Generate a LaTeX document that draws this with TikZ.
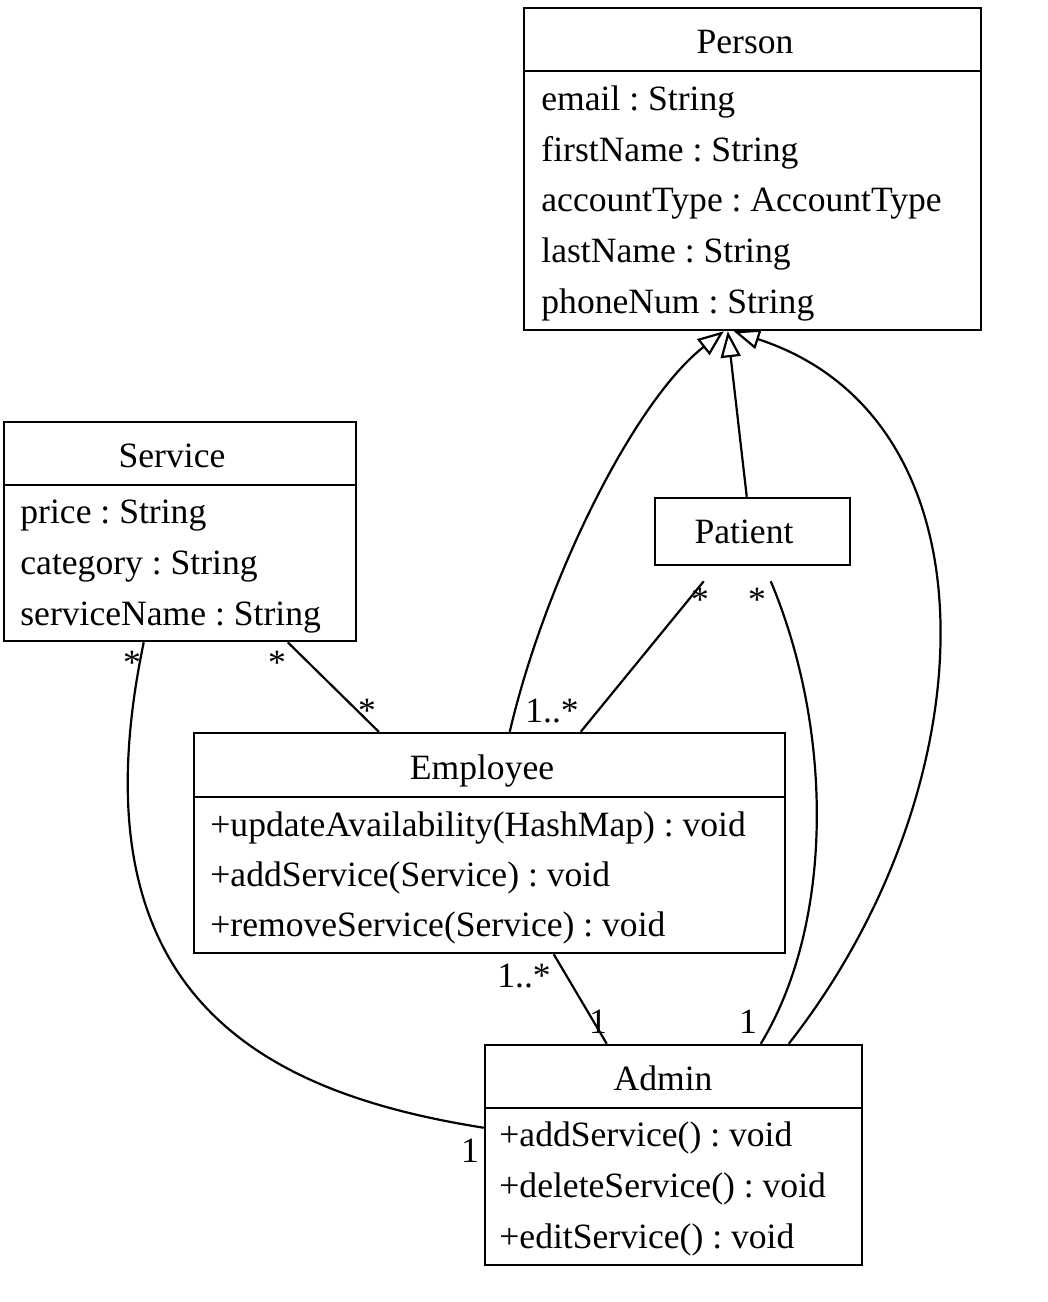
\documentclass[tikz,border=0pt]{standalone}
\usepackage{fontspec}
\setmainfont{Liberation Serif}
\usetikzlibrary{arrows.meta,calc}
\tikzset{
  cls/.style={draw, line width=1.25pt, inner sep=0pt},
  ttl/.style={anchor=base, inner sep=0pt},
  attr/.style={anchor=base west, inner sep=0pt},
  mult/.style={anchor=base, inner sep=0pt},
  sep/.style={line width=1.25pt},
  assoc/.style={line width=1.1pt},
  inherit/.style={line width=1.1pt, -{Triangle[open, length=13pt, width=10pt]}},
}
\frenchspacing
\begin{document}
\begin{tikzpicture}[x=0.5pt, y=-0.5pt, font=\fontsize{17.8}{21}\selectfont]
          \useasboundingbox (0,0) rectangle (1048,1302);

          \node[cls, minimum width=228.5pt, minimum height=161pt] (person) at (752.5,169) {};
          \node[cls, minimum width=176pt, minimum height=109.5pt] (service) at (180,531.5) {};
          \node[cls, minimum width=97.5pt, minimum height=33.5pt] (patient) at (752.5,531.5) {};
          \node[cls, minimum width=295.5pt, minimum height=110pt] (emp) at (489.5,843) {};
          \node[cls, minimum width=188.5pt, minimum height=110pt] (admin) at (673.5,1155) {};

          \draw[sep] ($(person.north west)+(0,64)$) -- ($(person.north east)+(0,64)$);
          \draw[sep] ($(service.north west)+(0,64)$) -- ($(service.north east)+(0,64)$);
          \draw[sep] ($(emp.north west)+(0,65)$) -- ($(emp.north east)+(0,65)$);
          \draw[sep] ($(admin.north west)+(0,64)$) -- ($(admin.north east)+(0,64)$);

          \node[ttl] (personT) at (745,53) {Person};
          \node[attr] (personA1) at (541,110) {email : String};
          \node[attr] (personA2) at (541,161) {firstName : String};
          \node[attr] (personA3) at (541,211.5) {accountType : AccountType};
          \node[attr] (personA4) at (541,262) {lastName : String};
          \node[attr] (personA5) at (541,313) {phoneNum : String};

          \node[ttl] (serviceT) at (172,467) {Service};
          \node[attr] (serviceA1) at (20,523) {price : String};
          \node[attr] (serviceA2) at (20,574) {category : String};
          \node[attr] (serviceA3) at (20,625) {serviceName : String};

          \node[ttl] (patientT) at (744,543) {Patient};

          \node[ttl] (empT) at (482,779.5) {Employee};
          \node[attr] (empM1) at (210,836) {+updateAvailability(HashMap) : void};
          \node[attr] (empM2) at (210,886) {+addService(Service) : void};
          \node[attr] (empM3) at (210,936) {+removeService(Service) : void};

          \node[ttl] (adminT) at (663,1090) {Admin};
          \node[attr] (adminM1) at (499,1146) {+addService() : void};
          \node[attr] (adminM2) at (499,1197) {+deleteService() : void};
          \node[attr] (adminM3) at (499,1248) {+editService() : void};

          % generalisation
          \draw[inherit] ($(emp.north west)+(317,0)$) .. controls +(35,-150) and +(-90,70) .. ($(person.south west)+(201,0)$);
          \draw[inherit] ($(patient.north west)+(93,0)$) -- ($(person.south west)+(205,0)$);
          \draw[inherit] ($(admin.north west)+(305,0)$) .. controls +(200,-255) and +(270,88) .. ($(person.south west)+(211,0)$);

          % associations
          \draw[assoc] ($(patient.south west)+(50,15)$) -- ($(emp.north west)+(388,0)$);
          \draw[assoc] ($(patient.south west)+(117,15)$) .. controls +(63,150) and +(73,-120) .. ($(admin.north west)+(277,0)$);
          \draw[assoc] ($(service.south west)+(285,0)$) -- ($(emp.north west)+(186,0)$);
          \draw[assoc] ($(service.south west)+(141,0)$) .. controls +(-75,359) and +(-214,-34) .. ($(admin.north west)+(0,84)$);
          \draw[assoc] ($(emp.south west)+(361,0)$) -- ($(admin.north west)+(123,0)$);

          \node[mult] (m1) at (700,611) {*};
          \node[mult] (m2) at (552,722) {1..*};
          \node[mult] (m3) at (757,611) {*};
          \node[mult] (m4) at (748,1033) {1};
          \node[mult] (m5) at (524,987) {1..*};
          \node[mult] (m6) at (598,1033) {1};
          \node[mult] (m7) at (132,674) {*};
          \node[mult] (m8) at (470,1162) {1};
          \node[mult] (m9) at (277,674) {*};
          \node[mult] (m10) at (367,722) {*};

      \end{tikzpicture}
\end{document}
